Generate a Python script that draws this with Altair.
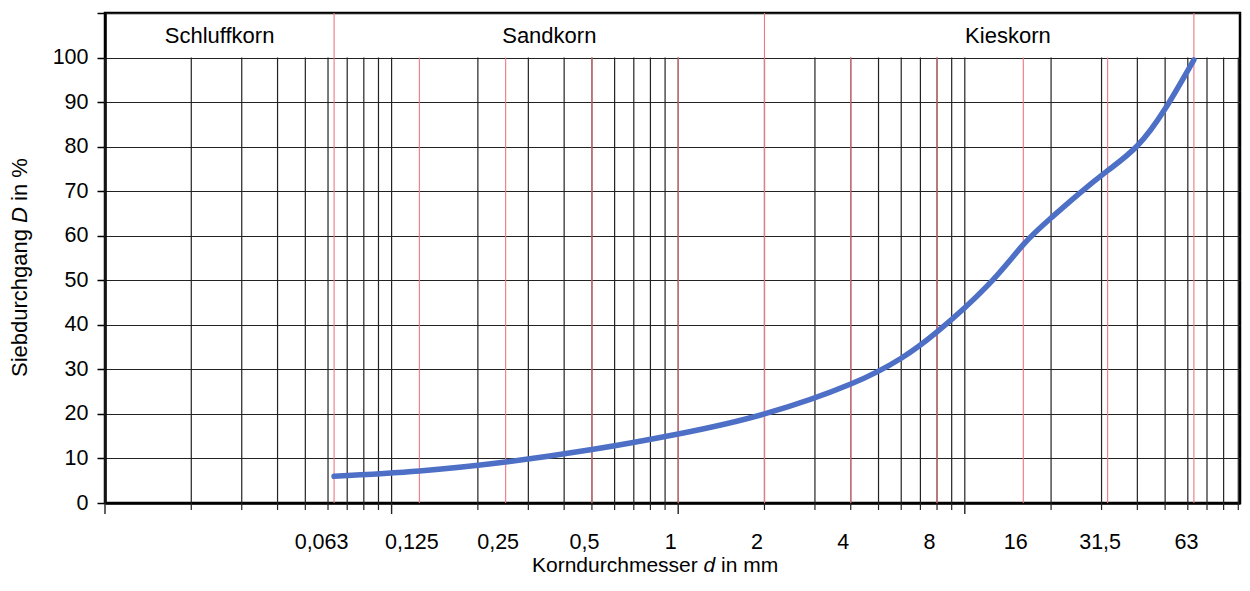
import math
import altair as alt
import pandas as pd

# ---------------- data ----------------
sieve_sizes = [0.063, 0.125, 0.25, 0.5, 1, 2, 4, 8, 16, 31.5, 63]
fraction_bounds = [0.063, 2, 63]
grid_mantissas = [1, 2, 3, 4, 5, 6, 7, 8, 9]
grid_decades = [0.01, 0.1, 1, 10]
grain_d = [0.063, 0.125, 0.25, 0.5, 1, 2, 4, 6, 8, 12, 16, 20, 25, 31.5, 40, 50, 63]
passing = [6.0, 7.2, 9.2, 12.0, 15.5, 20.0, 26.7, 32.5, 38.4, 48.8, 58.0, 64.0, 69.4, 74.6, 80.2, 88.5, 99.5]
fraction_names = ["Schluffkorn", "Sandkorn", "Kieskorn"]
fraction_centres = [0.0251, 0.355, 14.14]
y_ticks = [0, 10, 20, 30, 40, 50, 60, 70, 80, 90, 100, 110]

FONT = "Liberation Sans"
PX_PER_DECADE = 286.6
W, H = 1135, 490
X_MIN = 0.01
X_MAX = X_MIN * 10 ** (W / PX_PER_DECADE)   # plot is cut at the page edge
BLUE = "#4e6fc6"
RED = "#ee7780"
GRID = "#222222"

grid_vals = [round(m * dec, 6) for dec in grid_decades for m in grid_mantissas]
grid_vals = [v for v in grid_vals if v <= X_MAX]
df_grid = pd.DataFrame({
    "d": grid_vals,
    "y0": 0,
    "y1": 100,
    "major": [abs(v / 10 ** round(math.log10(v)) - 1) < 1e-9 for v in grid_vals],
})
df_sieve = pd.DataFrame({
    "d": sieve_sizes,
    "y0": 0,
    "top": [110 if s in fraction_bounds else 100 for s in sieve_sizes],
})
df_curve = pd.DataFrame({"d": grain_d, "D": passing})
df_frac = pd.DataFrame({"name": fraction_names, "c": fraction_centres, "ty": 104.8})

xs = alt.Scale(type="log", domain=[X_MIN, X_MAX], nice=False)
ys = alt.Scale(domain=[0, 110], nice=False, zero=True)

xaxis = alt.Axis(
    values=sieve_sizes, format="~g", labelExpr="replace(datum.label, '.', ',')",
    ticks=False, tickSize=0, grid=False, domainColor="black", domainWidth=2.5,
    labelFont=FONT, labelFontSize=21.5, labelColor="black", labelBaseline="alphabetic",
    labelPadding=45,
    labelOffset={"condition": {"test": "datum.value < 0.07", "value": -13}, "value": -8},
    labelOverlap=False, labelFlush=False, title=None,
)
yaxis = alt.Axis(
    values=y_ticks, labelExpr="datum.value > 100 ? '' : datum.label",
    tickSize=8, tickColor="black", tickWidth=1.5, domainColor="black", domainWidth=2.5,
    grid=True, gridColor=GRID, gridWidth=1.2, labelFont=FONT, labelFontSize=21.5,
    labelColor="black", labelPadding=9, title=None,
)


def X(f):
    return alt.X(f, type="quantitative", scale=xs, axis=xaxis)


def Y(f):
    return alt.Y(f, type="quantitative", scale=ys, axis=yaxis)


grid_rules = alt.Chart(df_grid).mark_rule(color=GRID, strokeWidth=1.2).encode(
    x=X("d"), y=Y("y0"), y2="y1")
minor_ticks = alt.Chart(df_grid).transform_filter("!datum.major").mark_rule(
    color=GRID, strokeWidth=1.2).encode(x=X("d"), y=alt.value(H), y2=alt.value(H + 7))
major_ticks = alt.Chart(df_grid).transform_filter("datum.major").mark_rule(
    color=GRID, strokeWidth=1.4).encode(x=X("d"), y=alt.value(H), y2=alt.value(H + 11))
red_rules = alt.Chart(df_sieve).mark_rule(color=RED, strokeWidth=1.1).encode(
    x=X("d"), y=Y("y0"), y2="top")
curve = alt.Chart(df_curve).mark_line(
    color=BLUE, strokeWidth=5.5, interpolate="natural", strokeCap="round").encode(
    x=X("d"), y=Y("D"))
header = alt.Chart(df_frac).mark_text(
    font=FONT, fontSize=22, color="black", baseline="middle", align="center").encode(
    x=X("c"), y=Y("ty"), text="name")

# axis titles with an italic symbol, laid out from Arial/Liberation widths
ARIAL = {"K": 667, "o": 556, "r": 333, "n": 556, "d": 556, "u": 556, "c": 500, "h": 556,
         "m": 833, "e": 556, "s": 500, " ": 278, "i": 222, "S": 667, "b": 556, "g": 556,
         "a": 556, "D": 722, "%": 889}


def tw(s, fs):
    return sum(ARIAL.get(ch, 556) for ch in s) * fs / 1000.0


one = pd.DataFrame({"a": [0]})
pieces = []
# x title
fx = 21
x0, yb = 427, 559
for txt, style in [("Korndurchmesser ", "normal"), ("d ", "italic"), ("in mm", "normal")]:
    pieces.append(alt.Chart(one).mark_text(
        font=FONT, fontSize=fx, fontStyle=style, color="black", align="left",
        baseline="alphabetic").encode(x=alt.value(x0), y=alt.value(yb), text=alt.value(txt.strip())))
    x0 += tw(txt, fx)
# y title (rotated)
fy = 22
y0, xb = 364, -78
for txt, style in [("Siebdurchgang ", "normal"), ("D ", "italic"), ("in %", "normal")]:
    pieces.append(alt.Chart(one).mark_text(
        font=FONT, fontSize=fy, fontStyle=style, color="black", align="left",
        baseline="alphabetic", angle=270).encode(x=alt.value(xb), y=alt.value(y0), text=alt.value(txt.strip())))
    y0 -= tw(txt, fy)

chart = alt.layer(
    grid_rules, minor_ticks, major_ticks, red_rules, curve, header, *pieces
).properties(
    width=W, height=H,
    padding={"left": 97, "top": 5, "right": 2, "bottom": 75},
    autosize=alt.AutoSizeParams(type="none"),
    background="white",
).configure_view(stroke="black", strokeWidth=2.5)

chart.save("out.html", embed_options={"renderer": "svg", "actions": False})
